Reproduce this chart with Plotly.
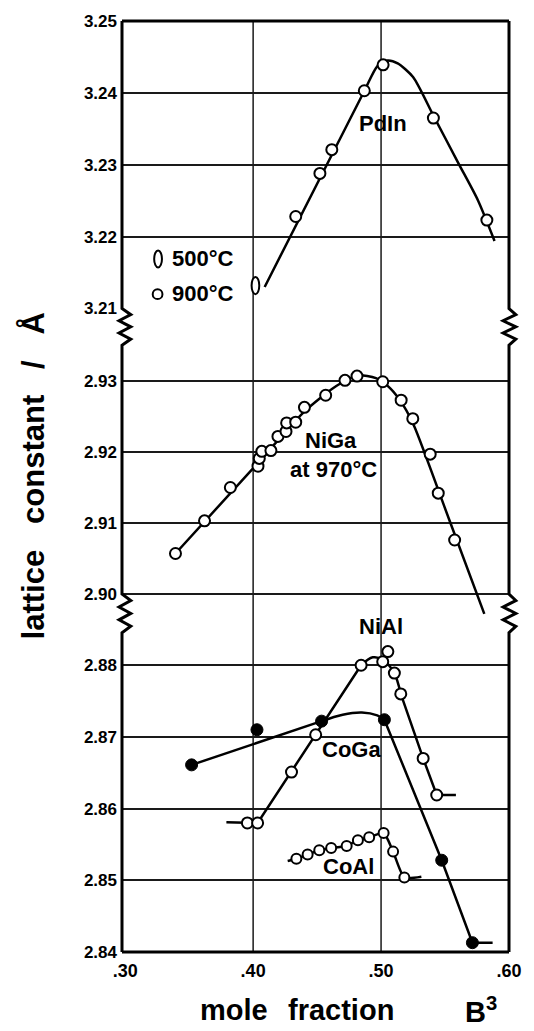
import plotly.graph_objects as go

# ---------------- data ----------------
x_tickvals = [0.30, 0.40, 0.50, 0.60]
x_ticktext = [".30", ".40", ".50", ".60"]
y_top_ticks = [3.21, 3.22, 3.23, 3.24, 3.25]
y_mid_ticks = [2.90, 2.91, 2.92, 2.93]
y_bot_ticks = [2.84, 2.85, 2.86, 2.87, 2.88]

# PdIn (900 C open circles, 500 C ellipse)
pdin_x = [0.4333, 0.4522, 0.4615, 0.4869, 0.5016, 0.5409, 0.5827]
pdin_y = [3.2228, 3.2288, 3.2321, 3.2403, 3.2439, 3.2365, 3.2223]
pdin500_x = [0.4018]
pdin500_y = [3.2132]
pdin_curve_x = [0.409, 0.487, 0.497, 0.505, 0.513, 0.525, 0.541, 0.5605, 0.5756, 0.5887]
pdin_curve_y = [3.2130, 3.2403, 3.2437, 3.2445, 3.2441, 3.2422, 3.2368, 3.2302, 3.2251, 3.2194]

# NiGa at 970 C
niga_x = [0.3393, 0.362, 0.3822, 0.4038, 0.4048, 0.4068, 0.4139, 0.4194, 0.4257, 0.4262, 0.4333,
          0.4401, 0.4567, 0.4718, 0.4812, 0.5013, 0.5157, 0.5248, 0.5384, 0.5447, 0.5575]
niga_y = [2.9057, 2.9103, 2.9150, 2.9180, 2.9191, 2.9201, 2.9202, 2.9222, 2.9229, 2.9241, 2.9242,
          2.9263, 2.9280, 2.9301, 2.9307, 2.9299, 2.9273, 2.9247, 2.9197, 2.9142, 2.9076]
niga_curve_x = [0.3393, 0.4040, 0.4400, 0.4650, 0.4820, 0.4960, 0.5070, 0.5180, 0.5260, 0.5530, 0.5807]
niga_curve_y = [2.9057, 2.9185, 2.9257, 2.9293, 2.9308, 2.9304, 2.9290, 2.9264, 2.9236, 2.9106, 2.8972]

# NiAl (open)
nial_x = [0.3955, 0.4035, 0.4300, 0.4489, 0.4844, 0.5013, 0.5053, 0.5104, 0.5154, 0.5329, 0.5435]
nial_y = [2.8580, 2.8580, 2.8651, 2.8703, 2.8800, 2.8805, 2.8819, 2.8789, 2.8760, 2.8670, 2.8619]
nial_line_x = [0.3791, 0.4035, 0.4844]          # straight rise
nial_line_y = [2.8581, 2.8580, 2.8800]
nial_arc_x = [0.4844, 0.4935, 0.5010, 0.5100, 0.5154]   # rounded top
nial_arc_y = [2.8800, 2.8811, 2.8808, 2.8790, 2.8760]
nial_tail_x = [0.5154, 0.5329, 0.5435, 0.5585]   # straight fall + tail
nial_tail_y = [2.8760, 2.8670, 2.8619, 2.8619]

# CoGa (filled)
coga_x = [0.3519, 0.4030, 0.4535, 0.5026, 0.5474, 0.5714]
coga_y = [2.8661, 2.8710, 2.8722, 2.8724, 2.8528, 2.8413]
coga_line_x = [0.3519, 0.4535]
coga_line_y = [2.8661, 2.8722]
coga_arc_x = [0.4535, 0.4700, 0.4850, 0.4970, 0.5026]
coga_arc_y = [2.8722, 2.8731, 2.8734, 2.8730, 2.8724]
coga_tail_x = [0.5026, 0.5474, 0.5714, 0.5872]
coga_tail_y = [2.8724, 2.8528, 2.8413, 2.8413]

# CoAl (open)
coal_x = [0.4338, 0.4426, 0.4517, 0.4610, 0.4731, 0.4819, 0.4907, 0.5020, 0.5094, 0.5182]
coal_y = [2.8530, 2.8536, 2.8542, 2.8545, 2.8548, 2.8556, 2.8560, 2.8566, 2.8540, 2.8504]
coal_curve_x = [0.4270, 0.4338, 0.4426, 0.4517, 0.4610, 0.4731, 0.4819, 0.4907, 0.5020, 0.5094, 0.5182, 0.5315]
coal_curve_y = [2.8527, 2.8530, 2.8536, 2.8542, 2.8545, 2.8548, 2.8556, 2.8560, 2.8566, 2.8540, 2.8504, 2.8505]

# ---------------- layout geometry (pixels) ----------------
W_FIG, H_FIG = 534, 1031
L, R, T, B = 122, 519, 13, 952
PW, PH = R - L, B - T


def px(x):
    return (x - L) / PW


def py(y):
    return (B - y) / PH


FONT = "Liberation Sans, Arial, sans-serif"
LW = 2.5

fig = go.Figure()

open_marker = dict(symbol="circle", size=11, color="white", line=dict(color="black", width=2))


def add_curve(xs, ys, yaxis, shape="spline", smoothing=0.7):
    line = dict(color="black", width=LW, shape=shape)
    if shape == "spline":
        line["smoothing"] = smoothing
    fig.add_trace(go.Scatter(x=xs, y=ys, xaxis="x", yaxis=yaxis, mode="lines", line=line,
                             hoverinfo="skip", showlegend=False))


def add_pts(xs, ys, yaxis, marker):
    fig.add_trace(go.Scatter(x=xs, y=ys, xaxis="x", yaxis=yaxis, mode="markers",
                             marker=marker, cliponaxis=False, showlegend=False))


add_curve(pdin_curve_x, pdin_curve_y, "y")
add_curve(niga_curve_x, niga_curve_y, "y2")
add_curve(nial_line_x, nial_line_y, "y3", "linear")
add_curve(nial_arc_x, nial_arc_y, "y3", "spline", 1.0)
add_curve(nial_tail_x, nial_tail_y, "y3", "linear")
add_curve(coga_line_x, coga_line_y, "y3", "linear")
add_curve(coga_arc_x, coga_arc_y, "y3", "spline", 1.0)
add_curve(coga_tail_x, coga_tail_y, "y3", "linear")
add_curve(coal_curve_x, coal_curve_y, "y3", "spline", 0.6)

add_pts(pdin_x, pdin_y, "y", open_marker)
add_pts(niga_x, niga_y, "y2", open_marker)
add_pts(nial_x, nial_y, "y3", open_marker)
add_pts(coal_x, coal_y, "y3", dict(open_marker, size=10))
add_pts(coga_x, coga_y, "y3", dict(symbol="circle", size=12, color="black", line=dict(color="black", width=1)))

shapes = []
# 500 C ellipse marker (data coordinates)
for ex, ey in zip(pdin500_x, pdin500_y):
    shapes.append(dict(type="circle", xref="x", yref="y", x0=ex - 0.003, x1=ex + 0.003,
                       y0=ey - 0.0012, y1=ey + 0.0012, line=dict(color="black", width=2),
                       fillcolor="white", layer="above"))

# vertical grid lines
for gx in x_tickvals[1:3]:
    shapes.append(dict(type="line", xref="x", yref="paper", x0=gx, x1=gx, y0=0, y1=1,
                       line=dict(color="#1a1a1a", width=1.5), layer="below"))


def squiggle(ax, y0, y1, lo, hi):
    n = 6
    pts = [(ax, y0)]
    for i in range(1, n):
        yy = y0 + (y1 - y0) * i / n
        pts.append((hi if i % 2 else lo, yy))
    pts.append((ax, y1))
    return pts


def frame_side(ax, lo, hi):
    pts = [(ax, T)]
    pts += squiggle(ax, 303, 340, lo, hi)
    pts += squiggle(ax, 591, 630, lo, hi)
    pts.append((ax, B))
    return "M " + " L ".join(f"{px(a):.5f},{py(b):.5f}" for a, b in pts)


shapes.append(dict(type="path", xref="paper", yref="paper", path=frame_side(L, L - 3, L + 9),
                   line=dict(color="black", width=3), layer="above"))
shapes.append(dict(type="path", xref="paper", yref="paper", path=frame_side(R, R - 6, R + 7),
                   line=dict(color="black", width=3), layer="above"))
shapes.append(dict(type="line", xref="paper", yref="paper", x0=px(L), x1=px(R), y0=py(T), y1=py(T),
                   line=dict(color="black", width=3), layer="above"))
shapes.append(dict(type="line", xref="paper", yref="paper", x0=px(L), x1=px(R), y0=py(B), y1=py(B),
                   line=dict(color="black", width=3), layer="above"))

# legend symbols
shapes.append(dict(type="circle", xref="paper", yref="paper", x0=px(155), x1=px(163),
                   y0=py(261.5), y1=py(244.5), line=dict(color="black", width=2), fillcolor="white"))
shapes.append(dict(type="circle", xref="paper", yref="paper", x0=px(153.5), x1=px(163.5),
                   y0=py(293.5), y1=py(283.5), line=dict(color="black", width=2), fillcolor="white"))

annotations = []


def label(text, x, y, size=22, xanchor="center", angle=0):
    annotations.append(dict(text=text, x=px(x), y=py(y), xref="paper", yref="paper",
                            xanchor=xanchor, yanchor="middle", showarrow=False, textangle=angle,
                            font=dict(family=FONT, size=size, color="black", weight="bold")))


NB = "\u00a0"
label("PdIn", 390, 116)
label("NiGa", 336, 436)
label("at 970°C", 339, 465)
label("NiAl", 388, 624)
label("CoGa", 357, 748)
label("CoAl", 354, 866)
label("500°C", 171, 253, xanchor="left")
label("900°C", 171, 288, xanchor="left")
label("mole", 237, 1011, size=29)
label("fraction", 347, 1011, size=29)
label("B<sup>3</sup>", 490, 1011, size=29)
label(f"lattice{NB*3}constant{NB*3}/{NB*3}Å", 31, 472, size=31, angle=-90)

yax_common = dict(anchor="x", showline=False, zeroline=False, showgrid=True, gridcolor="#1a1a1a",
                  gridwidth=1.5, ticks="", tickformat=".2f", ticklabelstandoff=4,
                  tickfont=dict(family=FONT, size=17, color="black", weight="bold"), fixedrange=True)

fig.update_layout(
    width=W_FIG, height=H_FIG,
    margin=dict(l=L, r=W_FIG - R, t=T, b=H_FIG - B, pad=0),
    paper_bgcolor="white", plot_bgcolor="white",
    showlegend=False,
    xaxis=dict(domain=[0, 1], range=[0.2975, 0.600], anchor="y3", showgrid=False, showline=False,
               zeroline=False, ticks="", tickvals=x_tickvals, ticktext=x_ticktext,
               ticklabelstandoff=6,
               tickfont=dict(family=FONT, size=18, color="black", weight="bold"), fixedrange=True),
    yaxis=dict(yax_common, domain=[py(303), py(13)], range=[3.21, 3.25], tickvals=y_top_ticks),
    yaxis2=dict(yax_common, domain=[py(612), py(340)], range=[2.89705, 2.93505], tickvals=y_mid_ticks),
    yaxis3=dict(yax_common, domain=[0, py(630)], range=[2.84, 2.88453], tickvals=y_bot_ticks),
    shapes=shapes,
    annotations=annotations,
)

fig.write_html("out.html")
